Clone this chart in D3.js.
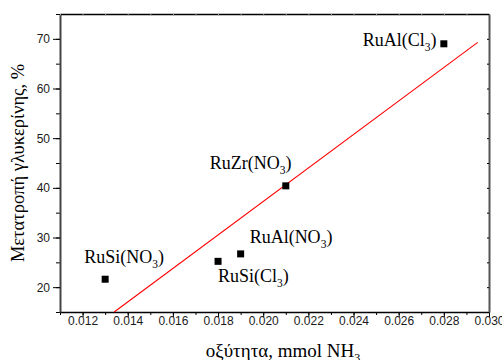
<!DOCTYPE html>
<html>
<head>
<meta charset="utf-8">
<script src="https://cdn.jsdelivr.net/npm/d3@7"></script>
<style>
  body { margin: 0; background: #fff; }
  svg { display: block; }
</style>
</head>
<body>
<div id="chart"></div>
<script>
// catalysts, acidity (mmol NH3) and glycerol conversion (%)
var catalysts = ["RuSi(NO3)", "RuSi(Cl3)", "RuAl(NO3)", "RuZr(NO3)", "RuAl(Cl3)"];
var labelMain = ["RuSi(NO", "RuSi(Cl", "RuAl(NO", "RuZr(NO", "RuAl(Cl"];
var acidity = [0.013, 0.018, 0.019, 0.021, 0.028];
var conversion = [21.6, 25.2, 26.7, 40.4, 69.0];
var fitRange = [0.0134, 0.0295];

var xTicks = [0.012, 0.014, 0.016, 0.018, 0.020, 0.022, 0.024, 0.026, 0.028, 0.030];
var yTicks = [20, 30, 40, 50, 60, 70];

var width = 502, height = 360;
var plotLeft = 60, plotRight = 489, plotTop = 14, plotBottom = 312;

var x = d3.scaleLinear().domain([0.011, 0.030]).range([plotLeft, plotRight]);
var y = d3.scaleLinear().domain([15, 75]).range([plotBottom, plotTop]);

// least squares fit through the points
var mx = d3.mean(acidity), my = d3.mean(conversion);
var sxy = d3.sum(acidity, function(v, i){ return (v - mx) * (conversion[i] - my); });
var sxx = d3.sum(acidity, function(v){ return (v - mx) * (v - mx); });
var slope = sxy / sxx;
var intercept = my - slope * mx;

var svg = d3.select("#chart").append("svg")
  .attr("width", width).attr("height", height);

var tickFont = "'Liberation Sans', Arial, sans-serif";
var serif = "'Liberation Serif', 'Times New Roman', serif";

var minorX = d3.range(11, 30.5, 1).map(function(v){ return v / 1000; });
var minorY = d3.range(15, 75.5, 5);

// minor ticks (drawn first, majors overwrite)
svg.append("g")
  .attr("transform", "translate(0," + plotBottom + ")")
  .call(d3.axisBottom(x).tickValues(minorX).tickSize(3).tickFormat(""))
  .call(function(g){ g.select(".domain").remove(); })
  .selectAll("line").attr("stroke", "#000");

svg.append("g")
  .attr("transform", "translate(" + plotLeft + ",0)")
  .call(d3.axisLeft(y).tickValues(minorY).tickSize(4).tickFormat(""))
  .call(function(g){ g.select(".domain").remove(); })
  .selectAll("line").attr("stroke", "#000");

// bottom axis
var xAxis = svg.append("g")
  .attr("transform", "translate(0," + plotBottom + ")")
  .call(d3.axisBottom(x).tickValues(xTicks).tickSize(5).tickSizeOuter(0).tickPadding(-1)
    .tickFormat(d3.format(".3f")));
xAxis.select(".domain").attr("stroke", "#000").attr("stroke-width", 1.5);
xAxis.selectAll("text").attr("font-family", tickFont).attr("font-size", 12).attr("fill", "#1a1a1a");

// left axis
var yAxis = svg.append("g")
  .attr("transform", "translate(" + plotLeft + ",0)")
  .call(d3.axisLeft(y).tickValues(yTicks).tickSize(7).tickSizeOuter(0).tickPadding(3));
yAxis.select(".domain").attr("stroke", "#444").attr("stroke-width", 2);
yAxis.selectAll("text").attr("font-family", tickFont).attr("font-size", 12).attr("fill", "#1a1a1a");

// top and right frame with tiny ticks
var topAxis = svg.append("g")
  .attr("transform", "translate(0," + plotTop + ")")
  .call(d3.axisTop(x).tickValues(minorX).tickSize(-1.5).tickSizeOuter(0).tickFormat(""));
topAxis.select(".domain").attr("stroke", "#000").attr("stroke-width", 1.5);
topAxis.selectAll("line").attr("stroke", "#999");

var rightAxis = svg.append("g")
  .attr("transform", "translate(" + plotRight + ",0)")
  .call(d3.axisRight(y).tickValues(minorY).tickSize(-2).tickSizeOuter(0).tickFormat(""));
rightAxis.select(".domain").attr("stroke", "#555").attr("stroke-width", 2);
rightAxis.selectAll("line").attr("stroke", "#000");

// fit line
svg.append("line")
  .attr("x1", x(fitRange[0])).attr("y1", y(slope * fitRange[0] + intercept))
  .attr("x2", x(fitRange[1])).attr("y2", y(slope * fitRange[1] + intercept))
  .attr("stroke", "#ff0000").attr("stroke-width", 1.1);

// points
var sq = 7;
svg.append("g").selectAll("rect")
  .data(acidity).enter().append("rect")
  .attr("x", function(d){ return x(d) - sq / 2; })
  .attr("y", function(d, i){ return y(conversion[i]) - sq / 2; })
  .attr("width", sq).attr("height", sq)
  .attr("fill", "#000");

// labels, offsets from each point
var labelOffsets = [[-21, -16], [0, 21], [9, -11], [-76, -17], [-81, 2]];

var labels = svg.append("g").selectAll("text")
  .data(catalysts).enter().append("text")
  .attr("x", function(d, i){ return x(acidity[i]) + labelOffsets[i][0]; })
  .attr("y", function(d, i){ return y(conversion[i]) + labelOffsets[i][1]; })
  .attr("font-family", serif).attr("font-size", 18).attr("fill", "#000");

labels.append("tspan").text(function(d, i){ return labelMain[i]; });
labels.append("tspan").attr("font-size", 11.5).attr("dy", 5).text("3");
labels.append("tspan").attr("dy", -5).text(")");

// axis titles
var xt = svg.append("text")
  .attr("x", 283).attr("y", 357)
  .attr("text-anchor", "middle")
  .attr("font-family", serif).attr("font-size", 19).attr("fill", "#000");
xt.append("tspan").text("οξύτητα, mmol NH");
xt.append("tspan").attr("font-size", 12).attr("dy", 5).text("3");

svg.append("text")
  .attr("transform", "translate(24,163) rotate(-90)")
  .attr("text-anchor", "middle")
  .attr("font-family", serif).attr("font-size", 18.5).attr("fill", "#000")
  .text("Μετατροπή γλυκερίνης, %");
</script>
</body>
</html>
